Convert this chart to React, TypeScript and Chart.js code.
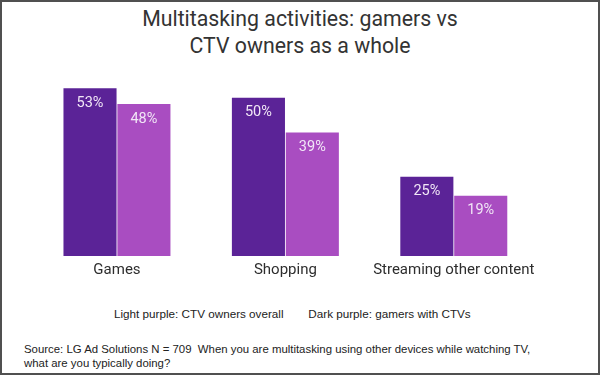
import React, { useEffect, useRef } from "react";
import { Chart, registerables } from "chart.js";

Chart.register(...registerables);

const categories = ["Games", "Shopping", "Streaming other content"];
const gamersWithCTVs = [53, 50, 25];
const ctvOwnersOverall = [48, 39, 19];
const titleLines = ["Multitasking activities: gamers vs", "CTV owners as a whole"];
const legendLight = "Light purple: CTV owners overall";
const legendDark = "Dark purple: gamers with CTVs";
const sourceLine1 = "Source: LG Ad Solutions N = 709  When you are multitasking using other devices while watching TV,";
const sourceLine2 = "what are you typically doing?";

const DARK = "#5b2397";
const LIGHT = "#a94dc1";
const FONT = "Roboto, 'Noto Sans', sans-serif";
const SMALL_FONT = "'Liberation Sans', Arial, sans-serif";

const valueLabels = {
  id: "valueLabels",
  afterDatasetsDraw(chart: any) {
    const ctx = chart.ctx;
    ctx.save();
    ctx.font = `14.5px ${FONT}`;
    ctx.fillStyle = "#f1e6f6";
    ctx.textAlign = "center";
    ctx.textBaseline = "alphabetic";
    chart.data.datasets.forEach((ds: any, i: number) => {
      const meta = chart.getDatasetMeta(i);
      meta.data.forEach((el: any, j: number) => {
        ctx.fillText(`${ds.data[j]}%`, el.x, el.y + 18.5);
      });
    });
    ctx.restore();
  },
};

export default function App() {
  const ref = useRef<HTMLCanvasElement>(null);
  useEffect(() => {
    if (!ref.current) return;
    const chart = new Chart(ref.current, {
      type: "bar",
      data: {
        labels: categories,
        datasets: [
          { label: "gamers with CTVs", data: gamersWithCTVs, backgroundColor: DARK, borderWidth: 0, categoryPercentage: 0.64, barPercentage: 0.985 },
          { label: "CTV owners overall", data: ctvOwnersOverall, backgroundColor: LIGHT, borderWidth: 0, categoryPercentage: 0.64, barPercentage: 0.985 },
        ],
      },
      options: {
        responsive: false,
        animation: false,
        layout: { padding: { left: 30.75, right: 60, top: 64, bottom: 0 } },
        plugins: { legend: { display: false }, title: { display: false }, tooltip: { enabled: false } },
        scales: {
          x: {
            grid: { display: false, drawTicks: false },
            border: { display: false },
            ticks: { color: "#2e2e2e", font: { family: FONT, size: 15 }, padding: 5.5, maxRotation: 0 },
          },
          y: { display: false, min: 0, max: 60 },
        },
      },
      plugins: [valueLabels],
    });
    return () => chart.destroy();
  }, []);

  return (
    <div style={{ position: "fixed", left: 0, top: 0, width: 600, height: 375, boxSizing: "border-box", border: "2px solid #505050", background: "#fff", fontFamily: FONT, color: "#333", overflow: "hidden" }}>
      <div style={{ position: "absolute", left: 0, width: 596, top: 3, textAlign: "center", fontSize: 21.3, lineHeight: "27px", paddingLeft: 0, boxSizing: "border-box" }}>
        {titleLines.map((t, i) => (<div key={i}>{t}</div>))}
      </div>
      <canvas ref={ref} width={596} height={283} style={{ position: "absolute", left: 0, top: 0, width: 596, height: 283 }} />
      <div style={{ position: "absolute", top: 304.6, left: 112, fontFamily: SMALL_FONT, fontSize: 11.7, lineHeight: "14px", whiteSpace: "pre", color: "#222" }}>{legendLight}</div>
      <div style={{ position: "absolute", top: 304.6, left: 306.3, fontFamily: SMALL_FONT, fontSize: 11.7, lineHeight: "14px", whiteSpace: "pre", color: "#222" }}>{legendDark}</div>
      <div style={{ position: "absolute", top: 339.8, left: 22, fontFamily: SMALL_FONT, fontSize: 11.4, lineHeight: "14px", whiteSpace: "pre", color: "#222" }}>
        {sourceLine1}{"\n"}{sourceLine2}
      </div>
    </div>
  );
}
